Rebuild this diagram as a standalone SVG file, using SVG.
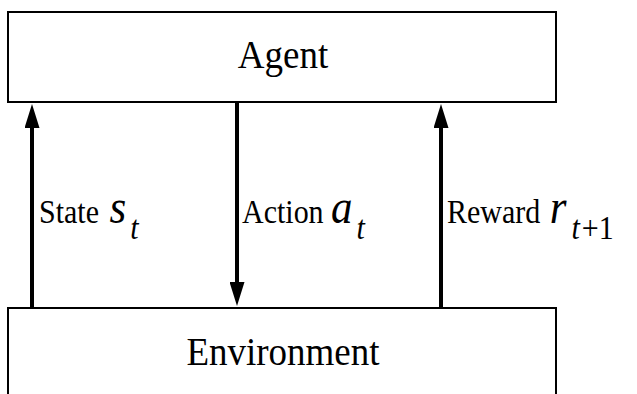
<svg xmlns="http://www.w3.org/2000/svg" width="637" height="394" viewBox="0 0 637 394">
<style>
.box{fill:#fff;stroke:#000;stroke-width:2}
text{font-family:'Liberation Serif','Times New Roman',serif;fill:#000}
.big{font-size:37px}
.mid{font-size:30px}
.it{font-style:italic;font-size:43px}
.sub{font-style:italic;font-size:30px}
.sup{font-size:30px}
.conn{stroke:#000;stroke-width:4;fill:none}
</style>
<defs>
<marker id="ah" markerUnits="userSpaceOnUse" markerWidth="24" markerHeight="15" refX="0" refY="7.5" orient="auto" viewBox="0 0 24 15">
<path d="M0,0 L24,7.5 L0,15 Z" fill="#000"/>
</marker>
</defs>
<rect width="637" height="394" fill="#fff"/>
<g id="agent">
<rect class="box" x="8" y="12" width="548" height="90"/>
<text class="big" transform="translate(283,68) scale(1,1.08)" text-anchor="middle">Agent</text>
</g>
<g id="environment">
<rect class="box" x="8" y="308" width="548" height="100"/>
<text class="big" transform="translate(283,365) scale(1,1.08)" text-anchor="middle">Environment</text>
</g>
<g id="connectors">
<line class="conn" x1="32" y1="308" x2="32" y2="128" marker-end="url(#ah)"/>
<line class="conn" x1="237" y1="102" x2="237" y2="282" marker-end="url(#ah)"/>
<line class="conn" x1="441" y1="308" x2="441" y2="128" marker-end="url(#ah)"/>
</g>
<g id="labels">
<text transform="translate(39,223) scale(1,1.15)"><tspan class="mid">State </tspan><tspan class="it" dx="3">s</tspan><tspan class="sub" dy="14" dx="4">t</tspan></text>
<text transform="translate(242,223) scale(1,1.15)"><tspan class="mid">Action </tspan><tspan class="it">a</tspan><tspan class="sub" dy="14" dx="4">t</tspan></text>
<text transform="translate(447,223) scale(1,1.15)"><tspan class="mid">Reward </tspan><tspan class="it" dx="2">r</tspan><tspan class="sub" dy="14" dx="5">t</tspan><tspan class="sup" dx="2">+1</tspan></text>
</g>
</svg>
